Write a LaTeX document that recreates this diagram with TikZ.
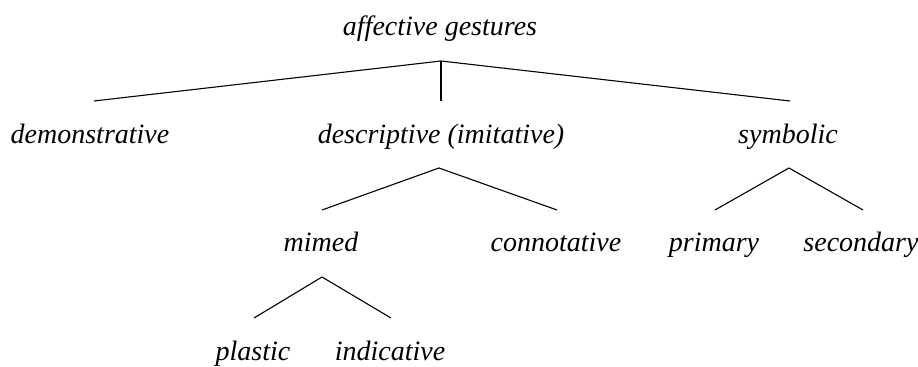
\documentclass[tikz,border=0pt]{standalone}
\usepackage{fontspec}
\setmainfont{Liberation Serif}
\begin{document}
\begin{tikzpicture}[x=0.5pt, y=-0.5pt,
                    line width=0.55pt,
                    term/.style={font=\itshape\fontsize{14}{16}\selectfont, anchor=base, inner sep=0pt}
                    ]
    \useasboundingbox (0,0) rectangle (918,367);

    \node[term] (affect) at (440,36)  {affective gestures};
    \node[term] (demon)  at (90,144)  {demonstrative};
    \node[term] (descr)  at (441,144) {descriptive (imitative)};
    \node[term] (symb)   at (788,144) {symbolic};
    \node[term] (mimed)  at (321,252) {mimed};
    \node[term] (connot) at (556,252) {connotative};
    \node[term] (prim)   at (714,252) {primary};
    \node[term] (second) at (861,252) {secondary};
    \node[term] (plast)  at (253,361) {plastic};
    \node[term] (indic)  at (390,361) {indicative};

    \coordinate (A)  at (441,61);
    \coordinate (A1) at (94,101);
    \coordinate (A2) at (441,101);
    \coordinate (A3) at (790,101);

    \coordinate (D)  at (439,168);
    \coordinate (D1) at (322,210);
    \coordinate (D2) at (557,210);

    \coordinate (S)  at (789,168);
    \coordinate (S1) at (715,210);
    \coordinate (S2) at (863,210);

    \coordinate (M)  at (322,277);
    \coordinate (M1) at (254,318);
    \coordinate (M2) at (391,318);

    \draw (A1)--(A)--(A3);
    \draw (A)--(A2);
    \draw (D1)--(D)--(D2);
    \draw (S1)--(S)--(S2);
    \draw (M1)--(M)--(M2);
\end{tikzpicture}
\end{document}
